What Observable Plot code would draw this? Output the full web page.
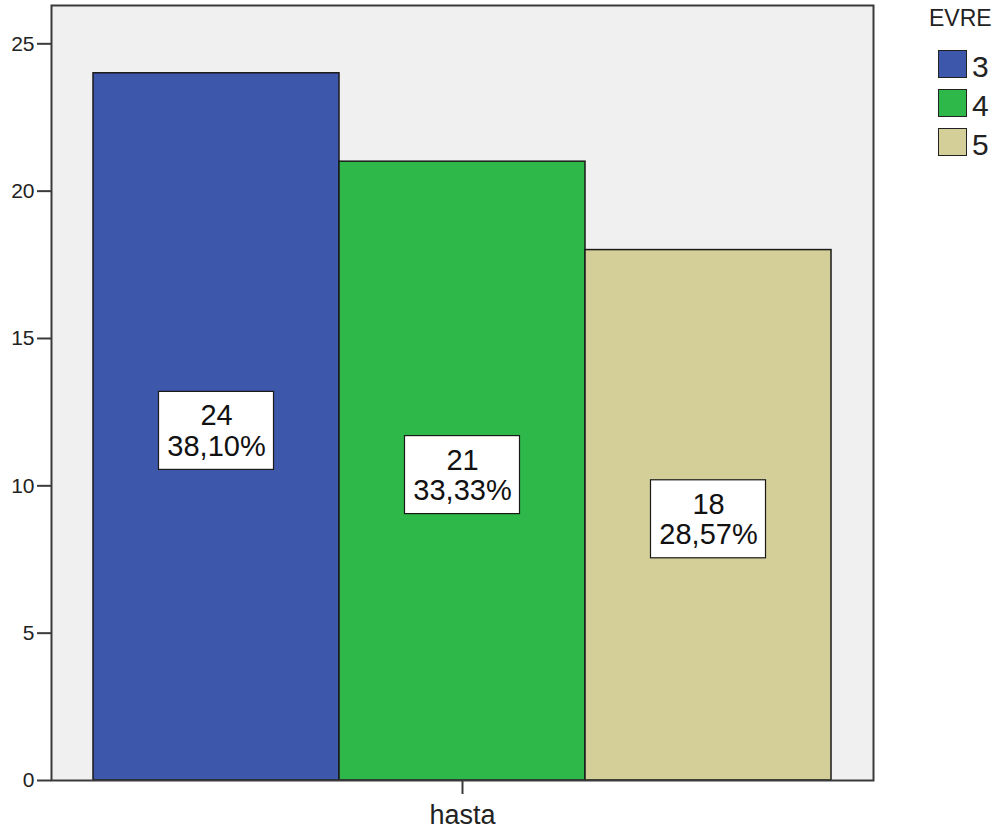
<!DOCTYPE html>
<html>
<head>
<meta charset="utf-8">
<script src="https://cdn.jsdelivr.net/npm/d3@7"></script>
<script src="https://cdn.jsdelivr.net/npm/@observablehq/plot@0.6"></script>
<style>
  html, body { margin: 0; padding: 0; background: #fff; }
  #wrap { position: relative; width: 1003px; height: 831px; font-family: "Liberation Sans", Arial, sans-serif; color: #222; }
  #chart { position: absolute; left: 0; top: 0; }
  #legend { position: absolute; left: 0; top: 0; }
  .lg-title { position: absolute; left: 929px; top: 7px; font-size: 23px; line-height: 23px; }
  .lg-sw { position: absolute; left: 938px; width: 27px; height: 26px; border: 1.5px solid #222; }
  .lg-lab { position: absolute; left: 972px; font-size: 30px; line-height: 30px; }
</style>
</head>
<body>
<div id="wrap"><div id="chart"></div><div id="legend"></div></div>
<script>
// ---- data ----
const group = ["hasta"];
const evre = ["3", "4", "5"];
const counts = [24, 21, 18];
const percents = ["38,10%", "33,33%", "28,57%"];
const colors = ["#3D57AA", "#2EB84A", "#D4CE98"];
const yTicks = [0, 5, 10, 15, 20, 25];
const legendTitle = "EVRE";

const data = evre.map((e, i) => ({group: group[0], evre: e, count: counts[i], pct: percents[i]}));

const chart = Plot.plot({
  width: 1003,
  height: 831,
  marginLeft: 51,
  marginRight: 130,
  marginTop: 5,
  marginBottom: 51,
  style: {fontFamily: "'Liberation Sans', Arial, sans-serif", color: "#222", background: "transparent"},
  fx: {domain: group, padding: 0, label: null},
  x: {domain: evre, paddingInner: 0, paddingOuter: 0.164, axis: null},
  y: {domain: [0, 26.3], axis: null},
  color: {domain: evre, range: colors},
  marks: [
    Plot.frame({fill: "#F0F0F0", stroke: "none"}),
    Plot.barY(data, {fx: "group", x: "evre", y: "count", fill: "evre", stroke: "#1a1a1a", strokeWidth: 1.5}),
    Plot.rect(data, {
      fx: "group", x: "evre",
      y1: d => d.count / 2, y2: d => d.count / 2,
      insetLeft: 65.5, insetRight: 65.5, insetTop: -35, insetBottom: -43,
      fill: "white", stroke: "#1a1a1a", strokeWidth: 1.2
    }),
    Plot.text(data, {
      fx: "group", x: "evre", y: d => d.count / 2,
      text: d => d.count + "\n" + d.pct,
      fontSize: 29, lineHeight: 1.05, dy: 4, fill: "#111"
    }),
    Plot.frame({stroke: "#3a3a3a", strokeWidth: 2}),
    Plot.axisY(yTicks, {tickSize: 14, tickPadding: 3, fontSize: 21, stroke: "#3a3a3a", strokeWidth: 2, fill: "#222", label: null}),
    Plot.axisFx({anchor: "bottom", tickSize: 14, tickPadding: 10, fontSize: 27, stroke: "#3a3a3a", strokeWidth: 2, fill: "#222", label: null})
  ]
});
document.getElementById("chart").appendChild(chart);

// legend
const lg = document.getElementById("legend");
const t = document.createElement("div");
t.className = "lg-title"; t.textContent = legendTitle; lg.appendChild(t);
evre.forEach((e, i) => {
  const top = 50 + i * 39;
  const sw = document.createElement("div");
  sw.className = "lg-sw"; sw.style.top = top + "px"; sw.style.background = colors[i];
  lg.appendChild(sw);
  const lab = document.createElement("div");
  lab.className = "lg-lab"; lab.style.top = (top + 1.5) + "px"; lab.textContent = e;
  lg.appendChild(lab);
});
</script>
</body>
</html>
